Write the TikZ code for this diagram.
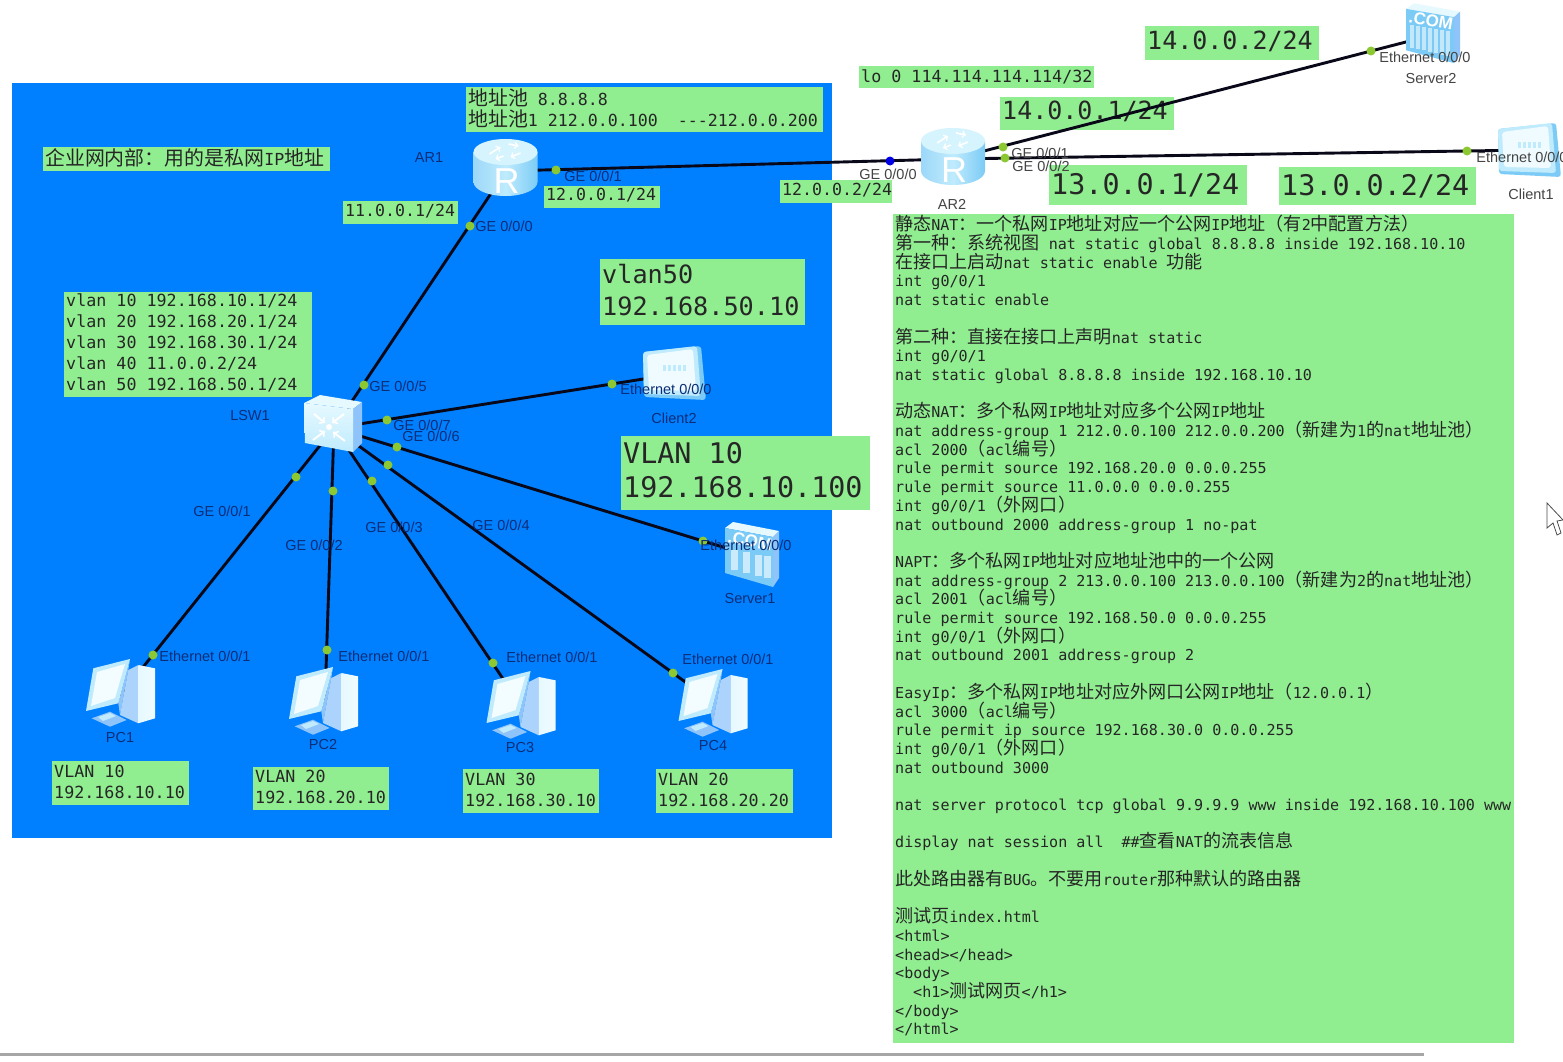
\documentclass[tikz,border=0pt]{standalone}
\usepackage{fontspec}
\setmainfont{Liberation Sans}
\newfontfamily\monof{DejaVu Sans Mono}
\newfontfamily\cjkf[Scale=1.2]{Noto Sans CJK SC}
\newcommand\zh[1]{{\cjkf #1}}
\newcommand\fs[2]{\monof\fontsize{#1}{#2}\selectfont\lineskiplimit=-100pt\relax}
\newcommand\srvbody{%
    \fill[icC] (-27,-23) -- (-19,-29) -- (27,-20) -- (21,-14) -- cycle;
    \fill[icD] (21,-14) -- (27,-20) -- (27,27) -- (21,36) -- cycle;
    \fill[icB] (-27,-23) -- (21,-14) -- (21,36) -- (-27,22) -- cycle;
    \node[text=white,rotate=-10,font=\bfseries\fontsize{17}{17}\selectfont,inner sep=0pt] at (-2,-10) {.COM};}
\definecolor{lanblue}{HTML}{0080FF}
\definecolor{noteg}{HTML}{90EE90}
\definecolor{portg}{HTML}{8CC832}
\definecolor{inkb}{HTML}{0B2D78}
\definecolor{inkw}{HTML}{444444}
\definecolor{wire}{HTML}{080818}
\definecolor{icA}{HTML}{BFEBFD}
\definecolor{icB}{HTML}{7CCBF6}
\definecolor{icC}{HTML}{E6F9FF}
\definecolor{icD}{HTML}{8FC4FA}
\tikzset{
  x=1pt,y=-1pt,
  gbox/.style={fill=noteg,draw=none,anchor=north west,inner xsep=2pt,inner ysep=0pt,align=left,text=black!85,
    execute at begin node={\spaceskip=.602em\xspaceskip=.602em\relax}},
  tup/.style={execute at end node={\rule[-#1pt]{0pt}{#1pt}}},
  wireln/.style={draw=wire,line width=2.9pt},
  portdot/.style={circle,fill=portg,draw=none,minimum size=9pt,inner sep=0pt},
  bluedot/.style={circle,fill=blue!90!black,draw=none,minimum size=9pt,inner sep=0pt},
  devnode/.style={coordinate},
  lblb/.style={text=inkb,font=\fontsize{14.5}{16}\selectfont,inner sep=0pt},
  lblw/.style={text=inkw,font=\fontsize{14.5}{16}\selectfont,inner sep=0pt},
  routericon/.pic={
    \path[left color=icB!75!white,right color=icB,middle color=icA] (-32,-15) -- (-32,15) arc[start angle=180,end angle=0,x radius=32,y radius=14] -- (32,-15) -- cycle;
    \fill[icC!60!icA] (0,-15) ellipse[x radius=32,y radius=13];
    \draw[white,line width=1.6pt,->] (-16,-13) -- (-5,-20);
    \draw[white,line width=1.6pt,->] (-2,-11) -- (-10,-8);
    \draw[white,line width=1.6pt,->] (3,-23) -- (13,-21);
    \draw[white,line width=1.6pt,->] (15,-14) -- (5,-10);
    \node[text=white,font=\fontsize{36}{36}\selectfont,inner sep=0pt] at (1,14) {R};
  },
  switchicon/.pic={
    \fill[icC] (-29,-23) -- (-13,-31) -- (29,-24) -- (20,-17) -- cycle;
    \fill[icD] (20,-17) -- (29,-24) -- (29,17) -- (20,26) -- cycle;
    \path[top color=icC,bottom color=icA] (-29,-23) -- (20,-17) -- (20,26) -- (-28,17) -- cycle;
    \draw[white,line width=2pt,->] (-19,-12) -- (-8,-3);
    \draw[white,line width=2pt,->] (11,-12) -- (-1,-3);
    \draw[white,line width=2pt,->] (-20,14) -- (-8,5);
    \draw[white,line width=2pt,->] (12,15) -- (0,6);
    \fill[white] (-4,1) circle[radius=3];
  },
  pcicon/.pic={
    \fill[icD] (-28.3,26.3) -- (-10,19.7) -- (6.7,28) -- (-10,34.7) -- cycle;
    \fill[icA] (-22,25) -- (-10,21) -- (-4,24) -- (-17,29) -- cycle;
    \fill[icD] (10,-33) -- (8.3,-22) -- (0,23) -- (-1.7,11.3) -- cycle;
    \fill[icD!75!white] (8.3,-22) -- (18.3,-27) -- (18.3,31.3) -- (0,23) -- cycle;
    \path[left color=icC,right color=icC!60!white] (18.3,-27) -- (35,-23.7) -- (35,26.3) -- (18.3,31.3) -- cycle;
    \fill[icA] (-26.7,-23.7) -- (10,-33) -- (-1.7,11.3) -- (-34,19) -- cycle;
    \fill[icC!50!white] (-23,-20) -- (5,-28) -- (-5,6) -- (-29,14) -- cycle;
  },
  clienticon/.pic={
    \fill[icB,rounded corners=3pt] (-32,-22) -- (26,-28) -- (31,26) -- (-31,23) -- cycle;
    \fill[icA,rounded corners=3pt] (-32,-22) -- (22,-28) -- (26,22) -- (-31,20) -- cycle;
    \fill[icC!60!white,rounded corners=3pt] (-28,-19) -- (18,-25) -- (21,17) -- (-26,16) -- cycle;
    \foreach \q in {-12,-7,-2,3,8} \fill[icA] (\q,-9) rectangle (\q+3,-3);
  },
  comicon/.pic={
    \srvbody
    \foreach \q in {-23,-17,...,16} \fill[white!55!icB] (\q,-1+.18*\q) rectangle (\q+3.5,25+.25*\q);
  },
  rackicon/.pic={
    \srvbody
    \foreach \q in {-21,-9,3,12} \fill[white!60!icB] (\q,3+.18*\q) rectangle (\q+7,24+.25*\q);
  }
}
\begin{document}
\begin{tikzpicture}
\clip (0,0) rectangle (1563,1062);
\fill[white] (0,0) rectangle (1563,1062);
\fill[lanblue] (12,83) rectangle (832,838);
\fill[black!35] (0,1053) rectangle (1424,1056);

% device anchors (connector centres)
\node[devnode] (ar1) at (506,171) {};
\node[devnode] (ar2) at (953,159) {};
\node[devnode] (lsw) at (334,428) {};
\node[devnode] (pc1) at (120,696) {};
\node[devnode] (pc2) at (325,700) {};
\node[devnode] (pc3) at (520,704) {};
\node[devnode] (pc4) at (713,702) {};
\node[devnode] (cl2) at (675,374) {};
\node[devnode] (cl1) at (1530,150) {};
\node[devnode] (sv1) at (752,556) {};
\node[devnode] (sv2) at (1433,35) {};

% notes
\node[gbox,minimum width=357pt,minimum height=45pt,text width=353pt,font=\fs{16.6}{21},tup=5] (nPool) at (466,87) {\zh{地址池} 8.8.8.8\\\zh{地址池}1 212.0.0.100\hspace{20pt}---212.0.0.200};
\node[gbox,minimum width=287pt,minimum height=24pt,text width=283pt,font=\fs{16.6}{20},tup=5] (nLan) at (43,147) {\zh{企业网内部：用的是私网}IP\zh{地址}};
\node[gbox,minimum width=235pt,minimum height=22pt,text width=231pt,font=\fs{16.7}{20}] (nLo) at (859,66) {\mbox{lo 0 114.114.114.114/32}};
\node[gbox,minimum width=174pt,minimum height=34pt,text width=170pt,font=\fs{25}{30},tup=6] (nS2) at (1145,26) {14.0.0.2/24};
\node[gbox,minimum width=174pt,minimum height=33pt,text width=170pt,font=\fs{25}{30},tup=6] (nA14) at (1000,97) {14.0.0.1/24};
\node[gbox,minimum width=198pt,minimum height=40pt,text width=194pt,font=\fs{28.4}{32}] (nA13) at (1049,165) {13.0.0.1/24};
\node[gbox,minimum width=197pt,minimum height=38pt,text width=193pt,font=\fs{28.4}{32}] (nC13) at (1279,167) {13.0.0.2/24};
\node[gbox,minimum width=112pt,minimum height=23pt,text width=108pt,font=\fs{16.6}{20},tup=5] (nA12) at (780,180) {12.0.0.2/24};
\node[gbox,minimum width=116pt,minimum height=22pt,text width=112pt,font=\fs{16.6}{20},tup=5] (nR12) at (544,186) {12.0.0.1/24};
\node[gbox,minimum width=115pt,minimum height=23pt,text width=111pt,font=\fs{16.6}{20},tup=5] (nR11) at (343,201) {11.0.0.1/24};
\node[gbox,minimum width=205pt,minimum height=66pt,text width=201pt,font=\fs{25.2}{32},tup=5] (nV50) at (600,259) {vlan50\\192.168.50.10};
\node[gbox,minimum width=249pt,minimum height=74pt,text width=245pt,font=\fs{28.4}{34},tup=6] (nV10) at (621,436) {VLAN 10\\192.168.10.100};
\node[gbox,minimum width=248pt,minimum height=105pt,text width=244pt,font=\fs{16.7}{21},tup=5] (nVl) at (64,292) {vlan 10 192.168.10.1/24\\vlan 20 192.168.20.1/24\\vlan 30 192.168.30.1/24\\vlan 40 11.0.0.2/24\\vlan 50 192.168.50.1/24};
\node[gbox,minimum width=137pt,minimum height=44pt,text width=133pt,font=\fs{16.7}{21},tup=3] (nP1) at (52,761) {VLAN 10\\192.168.10.10};
\node[gbox,minimum width=136pt,minimum height=43pt,text width=132pt,font=\fs{16.7}{21},tup=3] (nP2) at (253,767) {VLAN 20\\192.168.20.10};
\node[gbox,minimum width=136pt,minimum height=44pt,text width=132pt,font=\fs{16.7}{21},tup=3] (nP3) at (463,769) {VLAN 30\\192.168.30.10};
\node[gbox,minimum width=137pt,minimum height=44pt,text width=133pt,font=\fs{16.7}{21},tup=3] (nP4) at (656,769) {VLAN 20\\192.168.20.20};
\node[gbox,minimum width=621pt,minimum height=829pt,text width=617pt,font=\fs{15.05}{18.7},tup=7] (nMain) at (893,214) {%
\zh{静态}NAT\zh{：一个私网}IP\zh{地址对应一个公网}IP\zh{地址（有}2\zh{中配置方法）}\\
\zh{第一种：系统视图} nat static global 8.8.8.8 inside 192.168.10.10\\
\zh{在接口上启动}nat static enable \zh{功能}\\
int g0/0/1\\
nat static enable\\
\mbox{}\\
\zh{第二种：直接在接口上声明}nat static\\
int g0/0/1\\
nat static global 8.8.8.8 inside 192.168.10.10\\
\mbox{}\\
\zh{动态}NAT\zh{：多个私网}IP\zh{地址对应多个公网}IP\zh{地址}\\
nat address-group 1 212.0.0.100 212.0.0.200\zh{（新建为}1\zh{的}nat\zh{地址池）}\\
acl 2000\zh{（}acl\zh{编号）}\\
rule permit source 192.168.20.0 0.0.0.255\\
rule permit source 11.0.0.0 0.0.0.255\\
int g0/0/1\zh{（外网口）}\\
nat outbound 2000 address-group 1 no-pat\\
\mbox{}\\
NAPT\zh{：多个私网}IP\zh{地址对应地址池中的一个公网}\\
nat address-group 2 213.0.0.100 213.0.0.100\zh{（新建为}2\zh{的}nat\zh{地址池）}\\
acl 2001\zh{（}acl\zh{编号）}\\
rule permit source 192.168.50.0 0.0.0.255\\
int g0/0/1\zh{（外网口）}\\
nat outbound 2001 address-group 2\\
\mbox{}\\
EasyIp\zh{：多个私网}IP\zh{地址对应外网口公网}IP\zh{地址（}12.0.0.1\zh{）}\\
acl 3000\zh{（}acl\zh{编号）}\\
rule permit ip source 192.168.30.0 0.0.0.255\\
int g0/0/1\zh{（外网口）}\\
nat outbound 3000\\
\mbox{}\\
nat server protocol tcp global 9.9.9.9 www inside 192.168.10.100 www\\
\mbox{}\\
display nat session all\hspace{18pt}\#\#\zh{查看}NAT\zh{的流表信息}\\
\mbox{}\\
\zh{此处路由器有}BUG\zh{。不要用}router\zh{那种默认的路由器}\\
\mbox{}\\
\zh{测试页}index.html\\
<html>\\
<head></head>\\
<body>\\
\hspace*{18pt}<h1>\zh{测试网页}</h1>\\
</body>\\
</html>};

% connectors
\draw[wireln] (ar1) -- (ar2);
\draw[wireln] (ar1) -- (lsw);
\draw[wireln] (lsw) -- (cl2);
\draw[wireln] (lsw) -- (sv1);
\draw[wireln] (lsw) -- (pc4);
\draw[wireln] (lsw) -- (pc3);
\draw[wireln] (lsw) -- (pc2);
\draw[wireln] (lsw) -- (pc1);
\draw[wireln] (ar2) -- (sv2);
\draw[wireln] (ar2) -- (cl1);

% icons
\pic at (505.5,167) {routericon};
\pic at (953,156) {routericon};
\pic at (333,426) {switchicon};
\pic at (120,692) {pcicon};
\pic at (323,700) {pcicon};
\pic at (520.5,704) {pcicon};
\pic at (712.5,702) {pcicon};
\pic at (675,374) {clienticon};
\pic at (1530,151) {clienticon};
\pic at (752,551) {rackicon};
\pic[yscale=.92] at (1433,30) {comicon};

% ports
\foreach \n/\x/\y in {d1/556/170,d2/470/226,d3/364/385,d4/387/420,d5/612/384,d6/397/447,d7/703/541,d8/388/465,d9/673/673,d10/372/481,d11/493/663,d12/333/491,d13/327/650,d14/296/477,d15/153/655,d16/1003/147,d17/1371/51,d18/1005/158,d19/1467/151}
  \node[portdot] (\n) at (\x,\y) {};
\node[bluedot] (d20) at (890,161) {};

% port labels
\foreach \t/\x/\y in {GE 0\slash 0\slash 1/593/176,GE 0\slash 0\slash 0/504/226,GE 0\slash 0\slash 5/398/386,GE 0\slash 0\slash 7/422/425,GE 0\slash 0\slash 6/431/436,Ethernet 0\slash 0\slash 0/666/389,GE 0\slash 0\slash 1/222/511,GE 0\slash 0\slash 2/314/545,GE 0\slash 0\slash 3/394/527,GE 0\slash 0\slash 4/501/525,Ethernet 0\slash 0\slash 0/746/545,Ethernet 0\slash 0\slash 1/205/656,Ethernet 0\slash 0\slash 1/384/656,Ethernet 0\slash 0\slash 1/552/657,Ethernet 0\slash 0\slash 1/728/659,AR1/429/158,LSW1/250/416,PC1/120/738,PC2/323/745,PC3/520/748,PC4/713/746,Client2/674/418,Server1/750/599}
  \node[lblb] at (\x,\y) {\t};
\foreach \t/\x/\y in {GE 0\slash 0\slash 0/888/174,GE 0\slash 0\slash 1/1040/153,GE 0\slash 0\slash 2/1041/166,Ethernet 0\slash 0\slash 0/1425/57,Ethernet 0\slash 0\slash 0/1522/157,AR2/952/204,Server2/1431/79,Client1/1531/194}
  \node[lblw] at (\x,\y) {\t};

% pointer
\draw[fill=white,draw=black!70,line width=0.8pt] (1547,503) -- (1547,528) -- (1553,523) -- (1557,535) -- (1561,533) -- (1557,521) -- (1563,520) -- cycle;
\end{tikzpicture}
\end{document}
